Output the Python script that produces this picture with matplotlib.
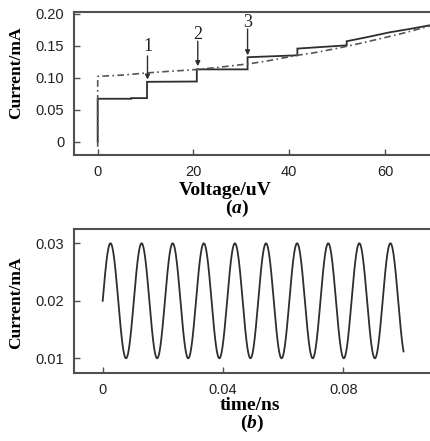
import numpy as np
import matplotlib.pyplot as plt

plt.rcParams["mathtext.fontset"] = "custom"
plt.rcParams["mathtext.it"] = "Liberation Serif:italic:bold"
plt.rcParams["mathtext.rm"] = "Liberation Serif:bold"

# (a) I-V curve
volt_solid = [0, 0, 7, 7, 10.3, 10.3, 20.7, 20.7, 31.3, 31.3, 41.7, 41.7, 52.0, 52.0, 56, 61, 65, 69.4]
cur_solid = [0, 0.067, 0.067, 0.068, 0.068, 0.0935, 0.094, 0.113, 0.113, 0.132, 0.135, 0.1455, 0.1506, 0.157, 0.163, 0.171, 0.176, 0.182]

volt_dd = [0, 0, 5, 10.4, 15, 19.4, 25, 31.9, 36, 41.7, 46, 50.7, 55, 59, 64, 69.4]
cur_dd = [-0.008, 0.102, 0.104, 0.1075, 0.110, 0.112, 0.116, 0.122, 0.127, 0.135, 0.140, 0.147, 0.154, 0.161, 0.170, 0.181]

marks = ["1", "2", "3"]
mark_v = [10.4, 20.9, 31.3]
mark_tip = [0.097, 0.118, 0.135]
mark_tail = [0.134, 0.157, 0.176]
mark_text = [0.148, 0.168, 0.186]

xticks_a = [0, 20, 40, 60]
yticks_a = [0, 0.05, 0.10, 0.15, 0.20]
ylabels_a = ["0", "0.05", "0.10", "0.15", "0.20"]

# (b) oscillation: offset, amplitude, period and length
osc_mean = 0.02
osc_amp = 0.01
osc_period = 0.01034
osc_end = 0.1
xticks_b = [0, 0.04, 0.08]
xlabels_b = ["0", "0.04", "0.08"]
yticks_b = [0.01, 0.02, 0.03]
ylabels_b = ["0.01", "0.02", "0.03"]

line_c = "#2e2e2e"
spine_c = "#505050"
tick_font = {"family": "Liberation Sans", "size": 10.5}
label_font = {"family": "Liberation Serif", "weight": "bold", "size": 12.5}
xlabel_font = {"family": "Liberation Serif", "weight": "bold", "size": 14}

fig = plt.figure(figsize=(4.30, 4.41), dpi=100)
ax1 = fig.add_axes([0.1721, 0.6485, 0.8279, 0.3232])
ax2 = fig.add_axes([0.1721, 0.1535, 0.8279, 0.3265])


def style(ax):
    ax.spines["right"].set_visible(False)
    for s in ["left", "top", "bottom"]:
        ax.spines[s].set_color(spine_c)
        ax.spines[s].set_linewidth(1.5)
    ax.tick_params(direction="in", length=4.5, width=1, color=spine_c, pad=7,
                   labelcolor="#222222")
    for lab in ax.get_xticklabels() + ax.get_yticklabels():
        lab.set_fontfamily(tick_font["family"])
        lab.set_fontsize(tick_font["size"])


ax1.plot(volt_solid, cur_solid, color=line_c, lw=1.3, solid_joinstyle="miter")
ax1.plot(volt_dd, cur_dd, color="#555555", lw=1.2, ls=(0, (4, 2, 1, 2)))
for m, v, tip, tail, ty in zip(marks, mark_v, mark_tip, mark_tail, mark_text):
    ax1.annotate("", xy=(v, tip), xytext=(v, tail),
                 arrowprops=dict(arrowstyle="-|>", color=line_c, lw=1.0,
                                 mutation_scale=7, shrinkA=0, shrinkB=0))
    ax1.text(v, ty, m, ha="center", va="center", family="Liberation Serif",
             size=13, color="#222222")
ax1.set_xlim(-4.95, 69.4)
ax1.set_ylim(-0.021, 0.202)
ax1.set_xticks(xticks_a)
ax1.set_yticks(yticks_a)
ax1.set_yticklabels(ylabels_a)
style(ax1)

t = np.linspace(0, osc_end, 1500)
ax2.plot(t, osc_mean + osc_amp * np.sin(2 * np.pi * t / osc_period), color=line_c, lw=1.3)
ax2.set_xlim(-0.00954, 0.1088)
ax2.set_ylim(0.00739, 0.03243)
ax2.set_xticks(xticks_b)
ax2.set_xticklabels(xlabels_b)
ax2.set_yticks(yticks_b)
ax2.set_yticklabels(ylabels_b)
style(ax2)

fig.text(0.037, 0.834, "Current/mA", rotation=90, ha="center", va="center", **label_font)
fig.text(0.037, 0.313, "Current/mA", rotation=90, ha="center", va="center", **label_font)
fig.text(0.523, 0.567, "Voltage/uV", ha="center", va="center", **xlabel_font)
fig.text(0.551, 0.527, "($a$)", ha="center", va="center", **xlabel_font)
fig.text(0.581, 0.080, "time/ns", ha="center", va="center", **xlabel_font)
fig.text(0.586, 0.039, "($b$)", ha="center", va="center", **xlabel_font)

fig.savefig("out.png", dpi=100)
